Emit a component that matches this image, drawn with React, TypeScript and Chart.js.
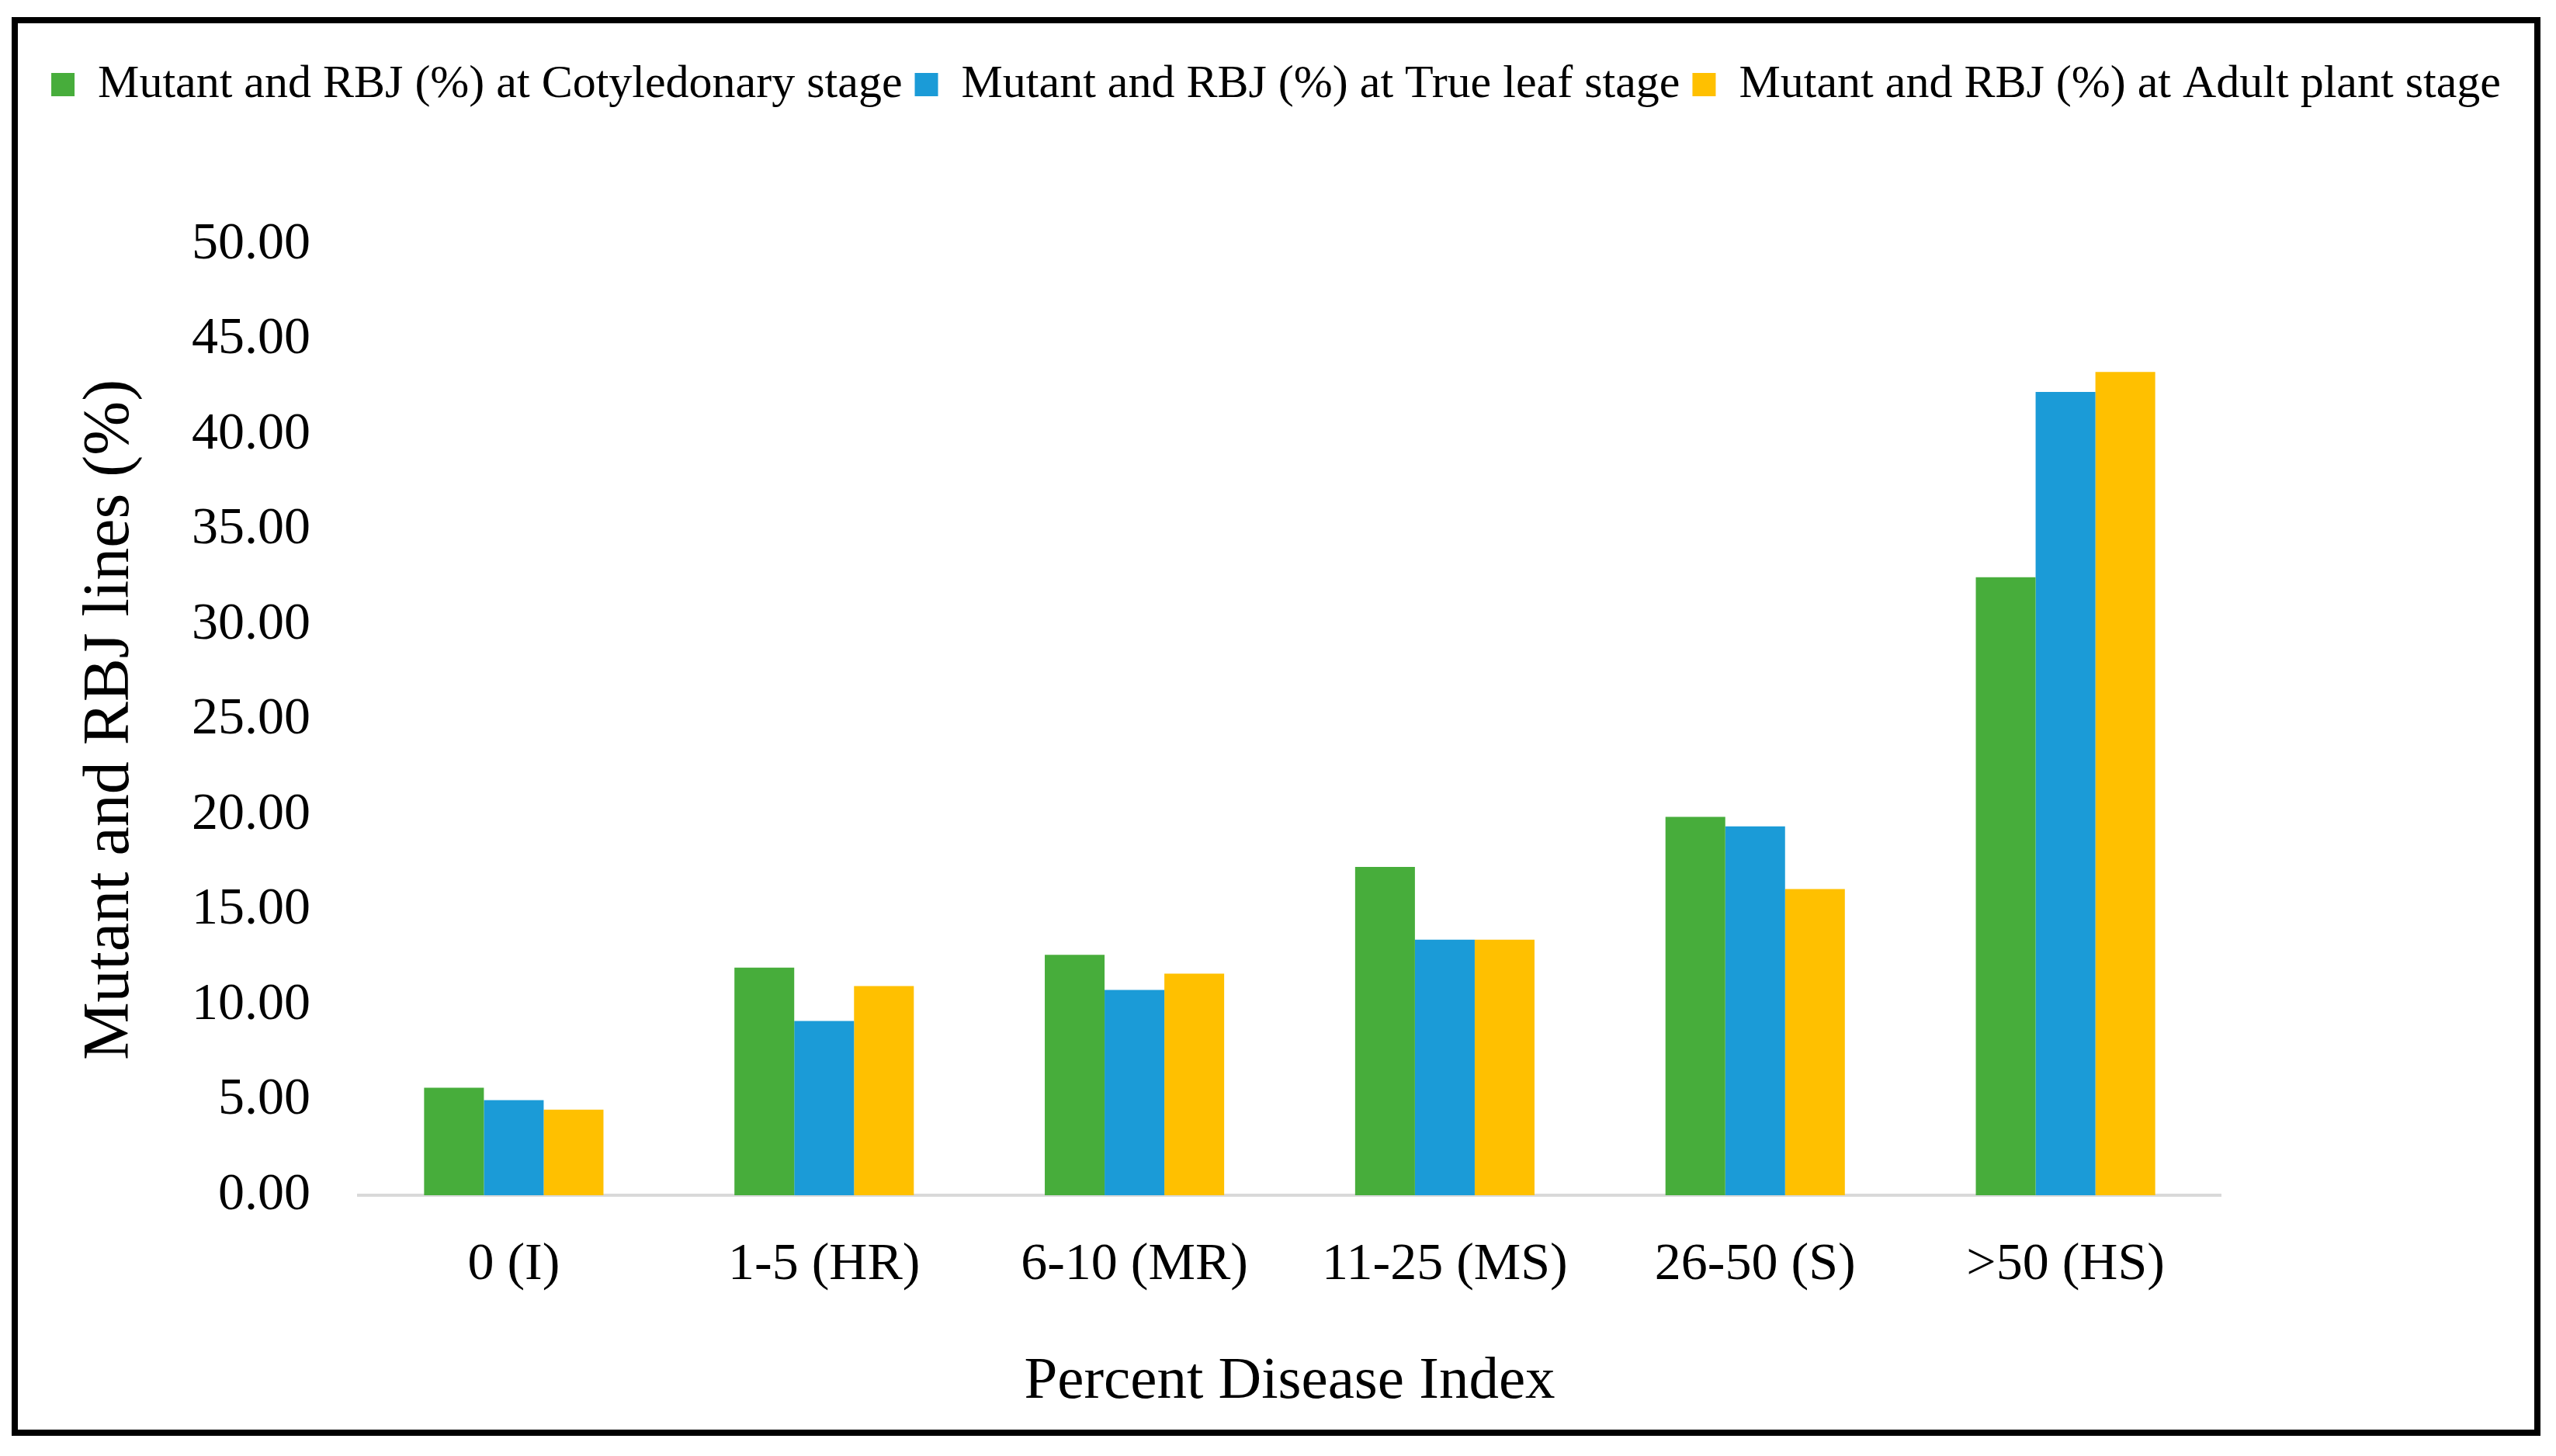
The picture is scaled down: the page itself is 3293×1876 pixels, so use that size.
import React, { useEffect, useRef } from "react";
import { Chart, registerables } from "chart.js";

Chart.register(...registerables);

const categories = ["0 (I)", "1-5 (HR)", "6-10 (MR)", "11-25 (MS)", "26-50 (S)", ">50 (HS)"];
const cotyledonary = [5.65, 11.97, 12.64, 17.27, 19.9, 32.5];
const trueLeaf = [5.0, 9.16, 10.8, 13.44, 19.4, 42.25];
const adultPlant = [4.5, 11.0, 11.65, 13.44, 16.1, 43.3];
const seriesNames = [
  "Mutant and RBJ (%) at Cotyledonary stage",
  "Mutant and RBJ (%) at True leaf stage",
  "Mutant and RBJ (%) at Adult plant stage",
];
const seriesColors = ["#47AD3B", "#1B9BD7", "#FFC000"];
const yMin = 0;
const yMax = 50;
const yStep = 5;

const FONT = "'Liberation Serif', 'Times New Roman', serif";

export default function App() {
  const canvasRef = useRef<HTMLCanvasElement | null>(null);

  useEffect(() => {
    document.body.style.margin = "0";
    document.body.style.overflow = "hidden";
    const canvas = canvasRef.current;
    if (!canvas) return;
    const chart = new Chart(canvas, {
      type: "bar",
      data: {
        labels: categories,
        datasets: [cotyledonary, trueLeaf, adultPlant].map((d, i) => ({
          label: seriesNames[i],
          data: d,
          backgroundColor: seriesColors[i],
          borderWidth: 0,
          categoryPercentage: 0.578,
          barPercentage: 1.0,
          xAxisID: "x",
          yAxisID: "y",
        })),
      },
      options: {
        responsive: false,
        animation: false,
        layout: { padding: { top: 33, left: 0, right: 0, bottom: 0 } },
        plugins: {
          legend: {
            position: "top",
            labels: {
              boxWidth: 30,
              boxHeight: 30,
              padding: 16,
              color: "#000",
              font: { family: FONT, size: 60 },
            },
          },
          title: {
            display: true,
            text: "",
            weight: 500,
            font: { size: 10 },
            padding: { top: 0, bottom: 154 },
          } as any,
          tooltip: { enabled: false },
        },
        scales: {
          x: {
            type: "category",
            position: "bottom",
            grid: { display: false, drawTicks: false },
            border: { display: true, color: "#D9D9D9", width: 4 },
            ticks: {
              color: "#000",
              font: { family: FONT, size: 68 },
              padding: 49,
              maxRotation: 0,
              autoSkip: false,
            },
            title: {
              display: true,
              text: "Percent Disease Index",
              color: "#000",
              font: { family: FONT, size: 77 },
              padding: { top: 0, bottom: 15 },
            },
            afterFit: (s: any) => {
              s.height = 302;
            },
          },
          y: {
            type: "linear",
            position: "left",
            min: yMin,
            max: yMax,
            grid: { display: false, drawTicks: false },
            border: { display: false },
            ticks: {
              stepSize: yStep,
              color: "#000",
              font: { family: FONT, size: 68 },
              padding: 62,
              callback: (v: any) => Number(v).toFixed(2),
            },
            title: {
              display: true,
              text: "Mutant and RBJ lines (%)",
              color: "#000",
              font: { family: FONT, size: 84 },
              padding: { top: 70, bottom: 0 },
            },
            afterFit: (s: any) => {
              s.width = 439;
            },
          },
          yR: {
            type: "linear",
            position: "right",
            display: true,
            grid: { display: false, drawTicks: false },
            border: { display: false },
            ticks: { display: false },
            afterFit: (s: any) => {
              s.width = 404;
            },
          },
        },
      },
    });
    return () => chart.destroy();
  }, []);

  return (
    <div
      style={{
        position: "absolute",
        left: 15,
        top: 22,
        width: 3258,
        height: 1828,
        boxSizing: "border-box",
        border: "8px solid #000",
        background: "#fff",
      }}
    >
      <canvas
        ref={canvasRef}
        width={3242}
        height={1812}
        style={{ display: "block", width: 3242, height: 1812 }}
      />
    </div>
  );
}
